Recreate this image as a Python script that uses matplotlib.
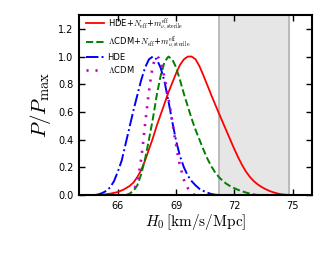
import numpy as np
import matplotlib
matplotlib.use('Agg')
import matplotlib.pyplot as plt

plt.rcParams['mathtext.fontset'] = 'cm'

# curvas (H0, P/Pmax)
h_hde_nu = [64.8, 65.2, 65.6, 66.0, 66.3, 66.6, 66.8, 67.0, 67.2, 67.4, 67.6, 67.8, 68.0, 68.2, 68.4,
            68.6, 68.8, 69.0, 69.2, 69.4, 69.6, 69.8, 70.0, 70.2, 70.4, 70.6, 70.8, 71.0, 71.2, 71.4,
            71.6, 71.8, 72.0, 72.2, 72.4, 72.6, 72.8, 73.0, 73.2, 73.4, 73.6, 73.8, 74.0, 74.2, 74.4,
            74.6, 74.9]
p_hde_nu = [0.0, 0.003, 0.01, 0.022, 0.04, 0.065, 0.09, 0.13, 0.18, 0.25, 0.33, 0.41, 0.5, 0.58, 0.66,
            0.74, 0.81, 0.88, 0.94, 0.98, 1.0, 1.0, 0.98, 0.93, 0.865, 0.795, 0.725, 0.657, 0.59, 0.525,
            0.46, 0.395, 0.33, 0.27, 0.215, 0.168, 0.13, 0.1, 0.077, 0.058, 0.043, 0.03, 0.02, 0.012, 0.006,
            0.003, 0.0]

h_lcdm_nu = [66.4, 66.6, 66.8, 67.0, 67.2, 67.4, 67.6, 67.8, 68.0, 68.2, 68.4, 68.6, 68.8, 69.0, 69.2,
             69.4, 69.6, 69.8, 70.0, 70.2, 70.4, 70.6, 70.8, 71.0, 71.2, 71.4, 71.6, 71.8, 72.0, 72.2,
             72.4, 72.6, 72.8, 73.0, 73.2]
p_lcdm_nu = [0.0, 0.01, 0.03, 0.07, 0.15, 0.26, 0.4, 0.55, 0.72, 0.86, 0.96, 1.0, 0.98, 0.92, 0.83,
             0.73, 0.64, 0.55, 0.47, 0.4, 0.33, 0.265, 0.21, 0.165, 0.13, 0.102, 0.08, 0.063, 0.049, 0.037,
             0.027, 0.018, 0.01, 0.005, 0.0]

h_hde = [64.8, 65.0, 65.2, 65.4, 65.6, 65.8, 66.0, 66.2, 66.4, 66.6, 66.8, 67.0, 67.2, 67.4, 67.6,
         67.8, 68.0, 68.2, 68.4, 68.6, 68.8, 69.0, 69.2, 69.4, 69.6, 69.8, 70.0, 70.2, 70.4, 70.6,
         70.8, 71.0, 71.2]
p_hde = [0.0, 0.005, 0.015, 0.03, 0.055, 0.1, 0.17, 0.25, 0.37, 0.49, 0.61, 0.72, 0.83, 0.92, 0.98,
         1.0, 0.98, 0.92, 0.82, 0.68, 0.53, 0.39, 0.28, 0.2, 0.14, 0.1, 0.07, 0.045, 0.03, 0.018,
         0.008, 0.003, 0.0]

h_lcdm = [66.6, 66.8, 66.95, 67.1, 67.2, 67.3, 67.4, 67.5, 67.6, 67.7, 67.8, 67.9, 68.0, 68.1, 68.2,
          68.3, 68.4, 68.5, 68.6, 68.7, 68.8, 68.9, 69.0, 69.1, 69.2, 69.3, 69.4, 69.5, 69.6, 69.7,
          69.8, 69.9, 70.0]
p_lcdm = [0.0, 0.03, 0.08, 0.17, 0.26, 0.38, 0.51, 0.63, 0.75, 0.85, 0.93, 0.98, 1.0, 0.99, 0.96,
          0.91, 0.85, 0.78, 0.7, 0.62, 0.53, 0.44, 0.36, 0.28, 0.21, 0.16, 0.11, 0.075, 0.05, 0.03,
          0.015, 0.005, 0.0]

# banda de Riess (73.0 +- 1.8)
h_riess = [71.2, 74.8]

labels = [r'HDE+$N_{\rm eff}$+$m_{\nu,{\rm sterile}}^{\rm eff}$',
          r'$\Lambda$CDM+$N_{\rm eff}$+$m_{\nu,{\rm sterile}}^{\rm eff}$',
          'HDE', r'$\Lambda$CDM']

fig = plt.figure(figsize=(3.27, 2.54), dpi=100)
ax = fig.add_axes([0.2416, 0.232, 0.713, 0.709])

ax.axvspan(h_riess[0], h_riess[1], color='0.9', zorder=0)
ax.axvline(h_riess[0], color='0.7', lw=1.2, zorder=0)
ax.axvline(h_riess[1], color='0.7', lw=1.2, zorder=0)

ax.plot(h_hde_nu, p_hde_nu, 'r-', lw=1.3, label=labels[0])
ax.plot(h_lcdm_nu, p_lcdm_nu, 'g--', lw=1.4, label=labels[1])
ax.plot(h_hde, p_hde, 'b-.', lw=1.4, label=labels[2])
ax.plot(h_lcdm, p_lcdm, color='m', ls=(0, (0.8, 2.6)), lw=1.9, label=labels[3])

ax.set_xlim(64, 76)
ax.set_ylim(0, 1.3)
ax.set_xticks([66, 69, 72, 75])
ax.set_yticks([0.0, 0.2, 0.4, 0.6, 0.8, 1.0, 1.2])
ax.tick_params(direction='in', top=True, right=True, length=4, width=1, labelsize=7, pad=4)
for s in ax.spines.values():
    s.set_linewidth(1.5)

ax.set_xlabel(r'$H_0\,[\rm km/s/Mpc]$', fontsize=11, labelpad=1)
ax.set_ylabel(r'$P/P_{\rm max}$', fontsize=15, labelpad=4)

ax.legend(loc='upper left', bbox_to_anchor=(0.015, 1.015), fontsize=6, frameon=False,
          handlelength=2.2, handletextpad=0.4, labelspacing=0.22, borderaxespad=0.0)

fig.savefig('out.png', dpi=100)
